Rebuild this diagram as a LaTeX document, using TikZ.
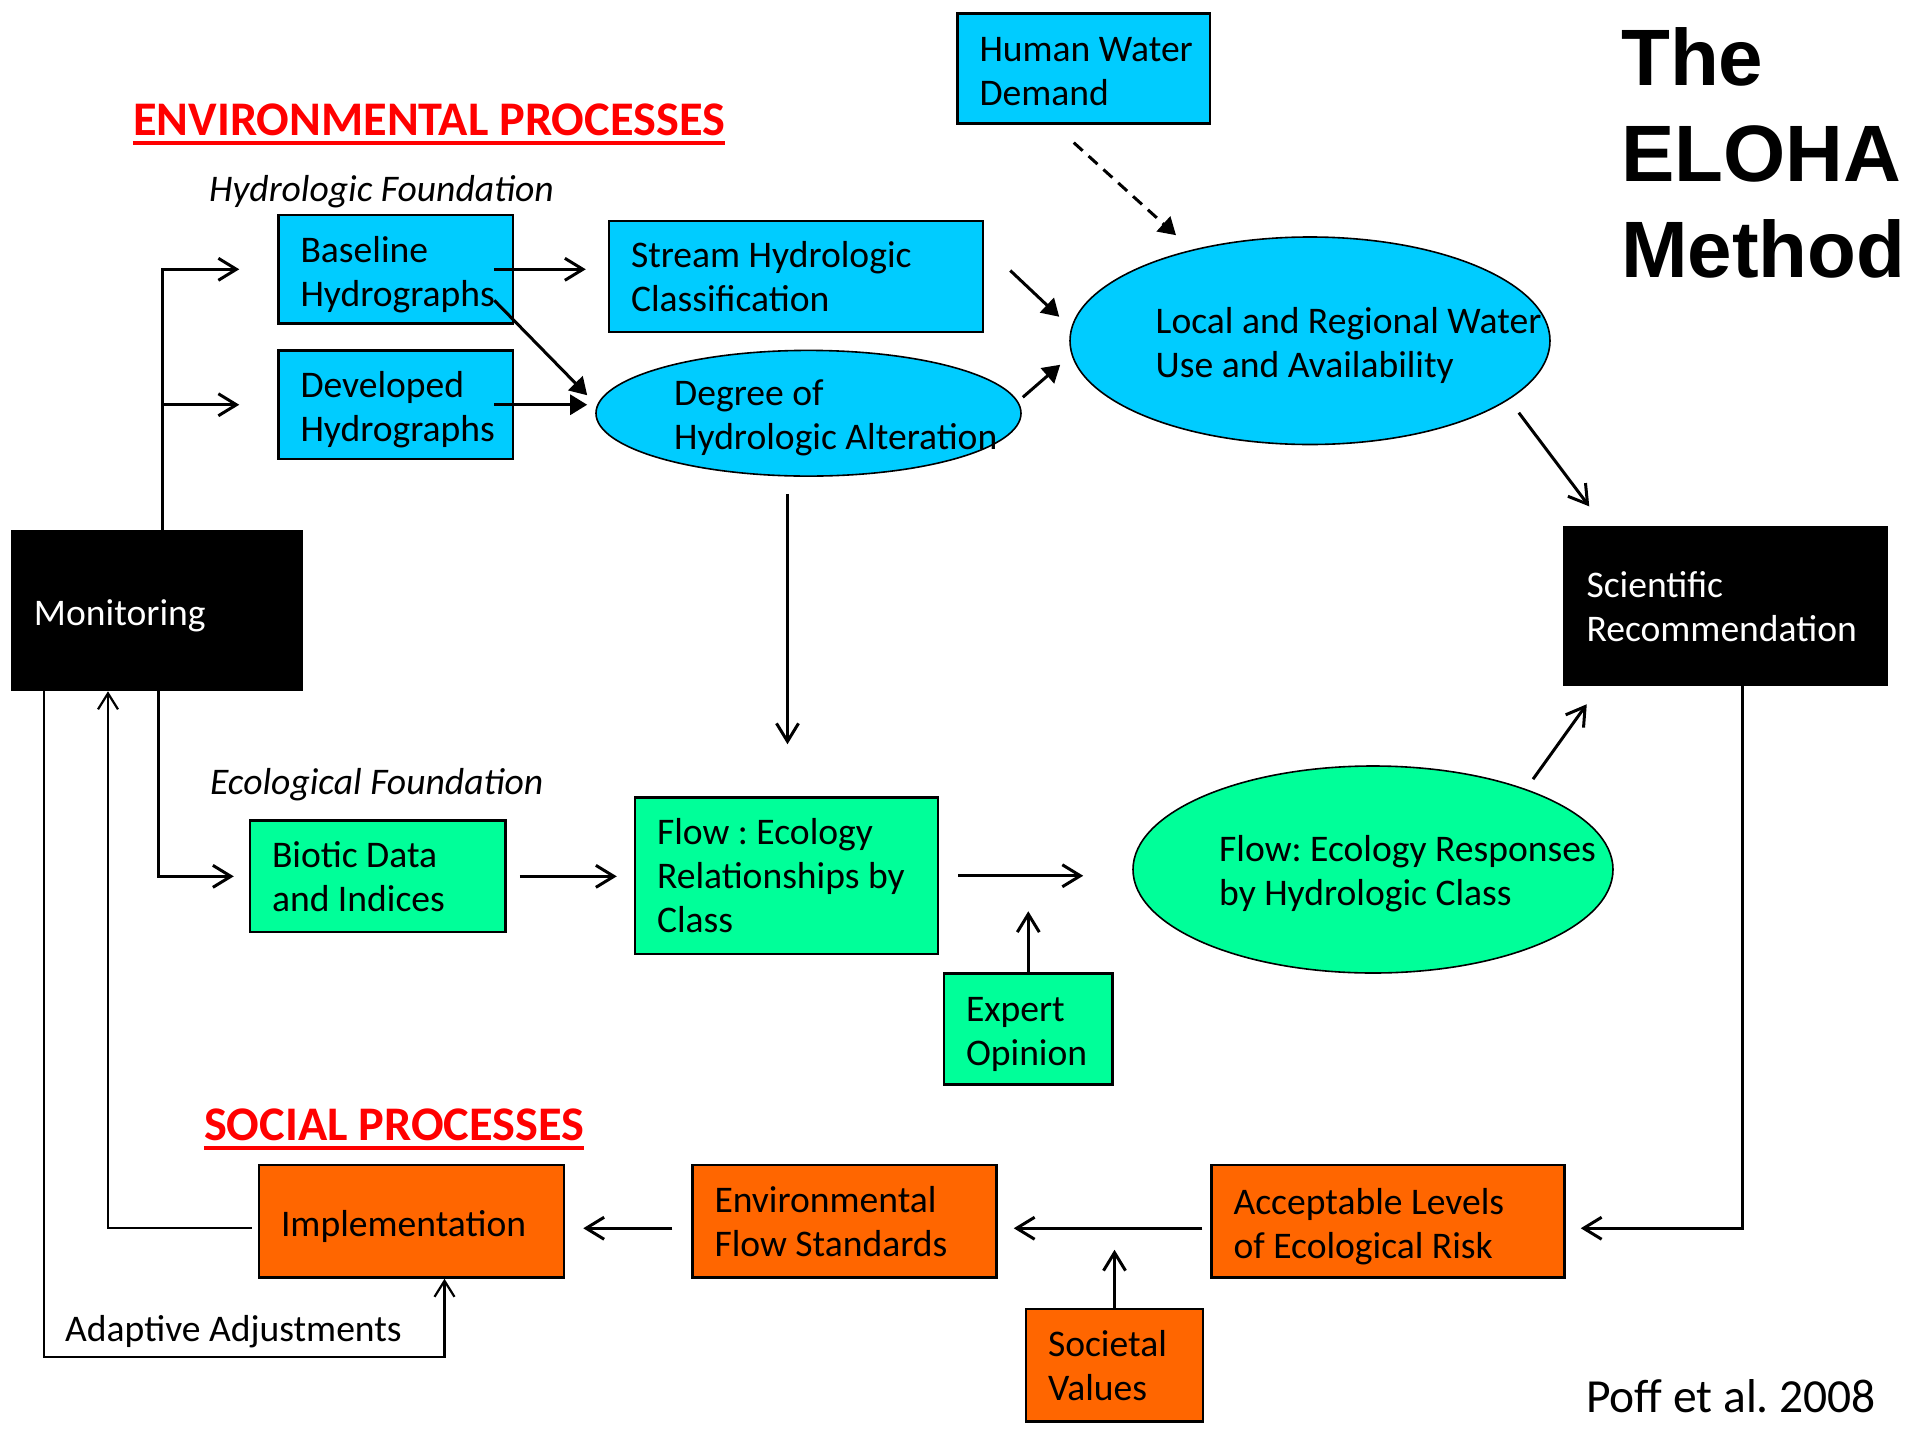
\documentclass[tikz,border=0pt]{standalone}
\usepackage{fontspec}
\setmainfont{Carlito}
\newfontfamily\titlefont{Liberation Sans}
\usetikzlibrary{arrows.meta,shapes.geometric,positioning}

\definecolor{hydroblue}{RGB}{0,204,255}
\definecolor{ecogreen}{RGB}{0,255,153}
\definecolor{socorange}{RGB}{255,102,0}
\definecolor{headred}{RGB}{255,0,0}

\newcommand{\bodysize}{\fontsize{37.6}{44}\selectfont}
\frenchspacing

\tikzset{
  procbox/.style={draw=black, line width=2.5pt, rectangle, align=flush left, inner xsep=22pt, inner ysep=0pt,
    execute at begin node={\rule{0pt}{#1}}},
  procbox/.default=36pt,
  bluebox/.style={procbox=#1, fill=hydroblue},
  bluebox/.default=36pt,
  greenbox/.style={procbox=#1, fill=ecogreen},
  greenbox/.default=36pt,
  orangebox/.style={procbox=#1, fill=socorange},
  orangebox/.default=36pt,
  blackbox/.style={procbox=#1, fill=black, text=white},
  blackbox/.default=36pt,
  oval/.style={draw=black, line width=1.6pt, ellipse, inner sep=0pt},
  ovaltext/.style={anchor=west, align=left, inner sep=0pt},
  heading/.style={text=headred, font=\bfseries\fontsize{48.3}{58}\selectfont, inner sep=0pt},
  barb/.style={line width=3pt, -{Straight Barb[length=18pt,width=22pt]}},
  filltip/.style={line width=3pt, -{Triangle[length=17pt,width=20pt]}},
  loopline/.style={line width=2.2pt, -{Straight Barb[length=16pt,width=20pt]}},
}

\begin{document}
\begin{tikzpicture}[x=1pt,y=-1pt,font=\bodysize]
\useasboundingbox[fill=white] (0,0) rectangle (1915,1435);

% Text Node
\node[anchor=north west, align=left, inner sep=0pt, font={\titlefont\bfseries\fontsize{80}{96}\selectfont}] (title) at (1621,27) {The\\ELOHA\\Method};
% Text Node
\node[heading] (envhead) at (429,120) {ENVIRONMENTAL PROCESSES};
\draw[headred, line width=4pt] ([yshift=-7pt]envhead.south west) -- ([yshift=-7pt]envhead.south east);
% Text Node
\node[heading] (sochead) at (394,1125) {SOCIAL PROCESSES};
\draw[headred, line width=4pt] ([yshift=-7pt]sochead.south west) -- ([yshift=-7pt]sochead.south east);
% Text Node
\node[anchor=base west, inner sep=0pt, font=\bodysize\itshape] (hydfound) at (209,201) {Hydrologic Foundation};
% Text Node
\node[anchor=base west, inner sep=0pt, font=\bodysize\itshape] (ecofound) at (210,794) {Ecological Foundation};

%Shape: Rectangle
\node[bluebox=31pt, minimum width=252.5pt, minimum height=110pt, text width=208.5pt] (hwd) at (1083.75,68.4) {\mbox{Human Water}\\Demand};
%Shape: Rectangle
\node[bluebox, minimum width=234.5pt, minimum height=108.6pt, text width=190.5pt] (base) at (395.75,269.3) {Baseline\\Hydrographs};
%Shape: Rectangle
\node[bluebox=27pt, minimum width=374pt, minimum height=111pt, text width=330pt] (stream) at (796,276.5) {Stream Hydrologic\\Classification};
%Shape: Rectangle
\node[bluebox, minimum width=234.5pt, minimum height=108.5pt, text width=190.5pt] (dev) at (395.75,404.75) {Developed\\Hydrographs};

%Shape: Ellipse
\node[oval, fill=hydroblue, minimum width=425pt, minimum height=125.7pt] (deg) at (808.5,413.25) {};
\node[ovaltext] (degtext) at (674,417.5) {Degree of\\Hydrologic Alteration};
%Shape: Ellipse
\node[oval, fill=hydroblue, minimum width=480pt, minimum height=207.5pt] (local) at (1310,340.75) {};
\node[ovaltext] (localtext) at (1155.5,345.5) {Local and Regional Water\\Use and Availability};

%Shape: Rectangle
\node[blackbox, minimum width=290pt, minimum height=159pt, text width=246pt] (mon) at (157,610.5) {Monitoring};
%Shape: Rectangle
\node[blackbox=27pt, minimum width=322.5pt, minimum height=157.4pt, text width=278.5pt] (sci) at (1725.75,606.3) {Scientific\\Recommendation};

%Shape: Rectangle
\node[greenbox=26pt, minimum width=255.6pt, minimum height=111.3pt, text width=211.6pt] (bio) at (377.8,876.35) {Biotic Data\\and Indices};
%Shape: Rectangle
\node[greenbox=26pt, minimum width=303pt, minimum height=156.5pt, text width=259pt] (fe) at (786.5,875.75) {Flow : Ecology\\Relationships by\\Class};
%Shape: Ellipse
\node[oval, fill=ecogreen, minimum width=480pt, minimum height=207pt] (resp) at (1373,869.5) {};
\node[ovaltext] (resptext) at (1219,873.5) {Flow: Ecology Responses\\by Hydrologic Class};
%Shape: Rectangle
\node[greenbox, minimum width=168.6pt, minimum height=111pt, text width=124.6pt] (exp) at (1028.3,1029) {Expert\\Opinion};

%Shape: Rectangle
\node[orangebox, minimum width=305pt, minimum height=112.5pt, text width=261pt] (impl) at (411.5,1221.25) {Implementation};
%Shape: Rectangle
\node[orangebox=26pt, minimum width=304pt, minimum height=112.5pt, text width=260pt] (efs) at (844.5,1221.25) {Environmental\\Flow Standards};
%Shape: Rectangle
\node[orangebox, minimum width=353pt, minimum height=112.5pt, text width=309pt] (alr) at (1388,1221.25) {Acceptable Levels\\of Ecological Risk};
%Shape: Rectangle
\node[orangebox=26pt, minimum width=177pt, minimum height=112.6pt, text width=133pt] (soc) at (1114.5,1365.3) {Societal\\Values};

% Text Node
\node[anchor=base west, inner sep=0pt] (adj) at (65,1341) {Adaptive Adjustments};
% Text Node
\node[anchor=base west, inner sep=0pt, font=\fontsize{47.5}{56}\selectfont] (poff) at (1586,1412) {Poff et al. 2008};

%Straight Lines
\coordinate (mtop) at ([xshift=5pt]mon.north);
\draw[barb] (mtop) |- ([xshift=-38pt]base.west);
\draw[barb] (mtop |- dev.west) -- ([xshift=-38pt]dev.west);
\draw[barb] ([xshift=-20pt]base.east) -- ([xshift=-22pt]stream.west |- base.east);
\draw[filltip] ([shift={(-20pt,-31pt)}]base.east) -- ([shift={(-8pt,18pt)}]deg.west);
\draw[filltip] ([xshift=-20pt]dev.east) -- ([xshift=-8pt]deg.west |- dev.east);
\draw[filltip] ([shift={(26pt,6pt)}]stream.east) -- ([shift={(-10pt,24pt)}]local.west);
\draw[filltip] ([shift={(1pt,16pt)}]deg.east) -- ([shift={(-9pt,-24pt)}]local.west);
\draw[filltip, dash pattern=on 12pt off 8pt] ([shift={(-10pt,-18pt)}]hwd.south) -- ([shift={(-134pt,1pt)}]local.north);
\draw[barb] ([shift={(-32pt,-72pt)}]local.east) -- ([shift={(26pt,20pt)}]sci.north west);
\draw[barb] ([shift={(-21pt,-17pt)}]deg.south) -- ([shift={(1pt,52pt)}]fe.north);

%Straight Lines
\draw[barb] ([xshift=1.5pt]mon.south) |- ([xshift=-15pt]bio.west);
\draw[barb] ([xshift=13pt]bio.east) -- ([xshift=-17pt]fe.west |- bio.east);
\draw[barb] ([xshift=19pt]fe.east) -- ([xshift=-49pt]resp.west |- fe.east);
\draw[barb] (exp.north) -- ([yshift=61pt]exp.north);
\draw[barb] ([shift={(160pt,-14pt)}]resp.north) -- ([shift={(23.5pt,-18pt)}]sci.south west);

%Straight Lines
\draw[barb] ([xshift=17pt]sci.south) |- ([shift={(15pt,-7pt)}]alr.east);
\draw[barb] ([shift={(-8pt,-7pt)}]alr.west) -- ([shift={(16pt,-7pt)}]efs.east);
\draw[barb] (soc.north) -- ([yshift=58pt]soc.north);
\draw[barb] ([shift={(-19pt,-7pt)}]efs.west) -- ([shift={(18pt,-7pt)}]impl.east);
\draw[loopline] ([shift={(-6pt,-7pt)}]impl.west) -| ([xshift=-49pt]mon.south);
\coordinate (adjc) at (45,1357);
\draw[loopline] ([xshift=33pt]mon.south west) |- (adjc) -| ([xshift=33pt]impl.south);

\end{tikzpicture}
\end{document}
